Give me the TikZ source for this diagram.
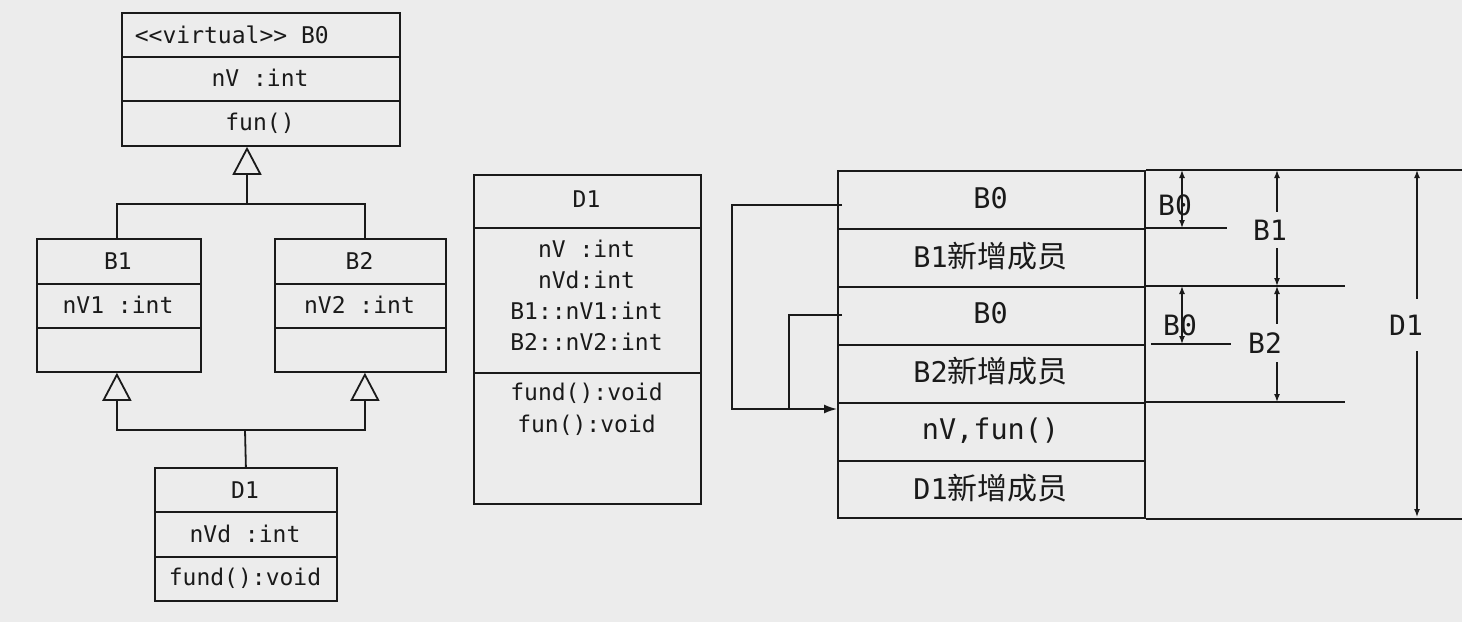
\documentclass[tikz,border=0pt]{standalone}
\usepackage{fontspec}
\setmonofont{DejaVu Sans Mono}
\newfontfamily\cjk{Noto Sans CJK SC}
\usetikzlibrary{arrows.meta}
\definecolor{bg}{HTML}{ECECEC}
\definecolor{ink}{HTML}{1A1A1A}
\begin{document}
\begin{tikzpicture}[x=1pt,y=-1pt,line width=1.8pt,color=ink,line join=miter,
  cell/.style={draw,rectangle,inner sep=0pt,anchor=north west},
  txt/.style={font=\ttfamily\fontsize{23}{31}\selectfont,inner sep=0pt},
  big/.style={font=\ttfamily\fontsize{28.5}{34}\selectfont,inner sep=0pt},
  lbl/.style={font=\ttfamily\fontsize{28}{34}\selectfont,inner sep=0pt},
  gen/.style={-{Triangle[open,length=28pt,width=29pt]}},
  dimarrow/.style={line width=1.4pt,{Latex[length=8pt,width=6pt]}-{Latex[length=8pt,width=6pt]}},
  conn/.style={line width=1.6pt}]
\fill[bg] (0,0) rectangle (1462,622);
\useasboundingbox (0,0) rectangle (1462,622);

% ---- B0
\node[cell,minimum width=278pt,minimum height=44pt] (b0a) at (121,12) {};
\node[cell,minimum width=278pt,minimum height=44pt] (b0b) at (121,56) {};
\node[cell,minimum width=278pt,minimum height=45pt] (b0c) at (121,100) {};
\node[txt,anchor=west] (tb0a) at (134,35) {<<virtual>> B0};
\node[txt] (tb0b) at (260,78) {nV :int};
\node[txt] (tb0c) at (260,123) {fun()};

% ---- B1
\node[cell,minimum width=164pt,minimum height=45pt] (b1a) at (36,238) {};
\node[cell,minimum width=164pt,minimum height=44pt] (b1b) at (36,283) {};
\node[cell,minimum width=164pt,minimum height=44pt] (b1c) at (36,327) {};
\node[txt] (tb1a) at (118,261) {B1};
\node[txt] (tb1b) at (118,305) {nV1 :int};

% ---- B2
\node[cell,minimum width=171pt,minimum height=45pt] (b2a) at (274,238) {};
\node[cell,minimum width=171pt,minimum height=44pt] (b2b) at (274,283) {};
\node[cell,minimum width=171pt,minimum height=44pt] (b2c) at (274,327) {};
\node[txt] (tb2a) at (359.5,261) {B2};
\node[txt] (tb2b) at (359.5,305) {nV2 :int};

% ---- D1 (UML)
\node[cell,minimum width=182pt,minimum height=44pt] (d1a) at (154,467) {};
\node[cell,minimum width=182pt,minimum height=45pt] (d1b) at (154,511) {};
\node[cell,minimum width=182pt,minimum height=44pt] (d1c) at (154,556) {};
\node[txt] (td1a) at (245,490) {D1};
\node[txt] (td1b) at (245,534) {nVd :int};
\node[txt] (td1c) at (245,578) {fund():void};

% ---- generalisation connectors
\coordinate (jtop) at (247,204);
\coordinate (jbot) at (245,430);
\draw[gen] ([xshift=-2pt]b1a.north) |- (jtop) -- (jtop |- b0c.south);
\draw ([xshift=4.5pt]b2a.north) |- (jtop);
\draw[gen] (d1a.north) -- (jbot) -| ([xshift=-2pt]b1c.south);
\draw[gen] (jbot) -| ([xshift=4.5pt]b2c.south);

% ---- D1 (flattened)
\node[cell,minimum width=227pt,minimum height=53pt] (m1) at (473,174) {};
\node[cell,minimum width=227pt,minimum height=145pt] (m2) at (473,227) {};
\node[cell,minimum width=227pt,minimum height=131pt] (m3) at (473,372) {};
\node[txt] (tm1) at (586.5,199) {D1};
\node[txt] (tm2a) at (586.5,249) {nV :int};
\node[txt] (tm2b) at (586.5,280) {nVd:int};
\node[txt] (tm2c) at (586.5,311) {B1::nV1:int};
\node[txt] (tm2d) at (586.5,342) {B2::nV2:int};
\node[txt] (tm3a) at (586.5,393) {fund():void};
\node[txt] (tm3b) at (586.5,425) {fun():void};

% ---- memory layout
\node[cell,minimum width=307pt,minimum height=58pt] (r1) at (837,170) {};
\node[cell,minimum width=307pt,minimum height=58pt] (r2) at (837,228) {};
\node[cell,minimum width=307pt,minimum height=58pt] (r3) at (837,286) {};
\node[cell,minimum width=307pt,minimum height=58pt] (r4) at (837,344) {};
\node[cell,minimum width=307pt,minimum height=58pt] (r5) at (837,402) {};
\node[cell,minimum width=307pt,minimum height=57pt] (r6) at (837,460) {};
\node[big] (tr1) at (990.5,198) {B0};
\node[big] (tr2) at (990.5,256) {B1{\cjk\fontsize{30}{34}\selectfont 新增成员}};
\node[big] (tr3) at (990.5,313) {B0};
\node[big] (tr4) at (990.5,371) {B2{\cjk\fontsize{30}{34}\selectfont 新增成员}};
\node[big] (tr5) at (990.5,431) {nV,fun()};
\node[big] (tr6) at (990.5,488) {D1{\cjk\fontsize{30}{34}\selectfont 新增成员}};

% extension lines
\draw (r1.north east) -- ++(318,0);
\draw (r2.north east) -- ++(81,0);
\draw (r3.north east) -- ++(199,0);
\draw ([xshift=5pt]r4.north east) -- ++(80,0);
\draw (r5.north east) -- ++(199,0);
\draw (r6.south east) -- ++(316,0);

% dimension arrows
\coordinate (a0t) at (1182,170); \coordinate (a0b) at (1182,228);
\coordinate (a1t) at (1277,170); \coordinate (a1b) at (1277,286);
\coordinate (a2t) at (1182,286); \coordinate (a2b) at (1182,344);
\coordinate (a3t) at (1277,286); \coordinate (a3b) at (1277,402);
\coordinate (a4t) at (1417,170); \coordinate (a4b) at (1417,517);
\draw[dimarrow] (a0t) -- (a0b);
\draw[dimarrow] (a1t) -- (a1b);
\draw[dimarrow] (a2t) -- (a2b);
\draw[dimarrow] (a3t) -- (a3b);
\draw[dimarrow] (a4t) -- (a4b);
\node[lbl] (l0) at (1175,205) {B0};
\node[lbl,fill=bg,inner xsep=2pt,inner ysep=8pt] (l1) at (1270,230) {B1};
\node[lbl] (l2) at (1180,325) {B0};
\node[lbl,fill=bg,inner xsep=2pt,inner ysep=9pt] (l3) at (1265,343) {B2};
\node[lbl,fill=bg,inner xsep=2pt,inner ysep=16pt] (l4) at (1406,325) {D1};

% virtual-base pointers
\coordinate (p1) at (842,205);
\coordinate (p2) at (842,315);
\coordinate (tgt) at (837,409);
\draw[conn,-{Latex[length=13pt,width=9pt]}] (p1) -- (732,205) |- (tgt);
\draw[conn] (p2) -- (789,315) -- (789,409);
\end{tikzpicture}
\end{document}
